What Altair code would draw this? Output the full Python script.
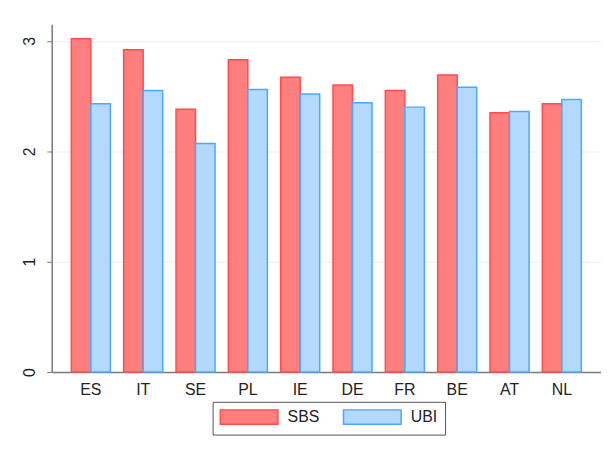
import altair as alt
import pandas as pd

countries = ["ES", "IT", "SE", "PL", "IE", "DE", "FR", "BE", "AT", "NL"]
sbs = [3.02, 2.92, 2.38, 2.83, 2.67, 2.60, 2.55, 2.69, 2.35, 2.43]
ubi = [2.43, 2.55, 2.07, 2.56, 2.52, 2.44, 2.40, 2.58, 2.36, 2.47]
series = ["SBS", "UBI"]
y_ticks = [0, 1, 2, 3]

rows = []
for c, a, b in zip(countries, sbs, ubi):
    rows.append({"country": c, "series": "SBS", "value": a})
    rows.append({"country": c, "series": "UBI", "value": b})
df = pd.DataFrame(rows)

bars = alt.Chart(df).mark_bar(strokeWidth=1.5).encode(
    x=alt.X("country:N", sort=countries, title=None,
            scale=alt.Scale(paddingInner=0.254, paddingOuter=0.375),
            axis=alt.Axis(labelAngle=0, ticks=False, tickSize=0, labelPadding=10,
                          labelFontSize=16, domainColor="#7a7a7a", domainWidth=1.5)),
    xOffset=alt.XOffset("series:N", sort=series, scale=alt.Scale(paddingInner=0, paddingOuter=0)),
    y=alt.Y("value:Q", title=None,
            scale=alt.Scale(domain=[0, 3.15], nice=False),
            axis=alt.Axis(values=y_ticks, format="d", labelAngle=270, tickSize=5,
                          labelPadding=9, labelFontSize=16, grid=True,
                          gridColor="#e9f0f1", gridWidth=1.2,
                          domainColor="#7a7a7a", domainWidth=1.5, tickColor="#7a7a7a")),
    color=alt.Color("series:N", sort=series, title=None,
                    scale=alt.Scale(domain=series, range=["#ff7f7f", "#b3d9ff"]),
                    legend=alt.Legend(orient="none", legendX=162, legendY=380,
                                      direction="horizontal",
                                      symbolType="M-1,-1H7V1H-1Z", symbolSize=210.25,
                                      symbolStrokeWidth=1.5,
                                      labelFontSize=16, labelOffset=52.5, columnPadding=20,
                                      padding=7, strokeColor="#555555",
                                      labelColor="#222222")),
    stroke=alt.Stroke("series:N", sort=series,
                      scale=alt.Scale(domain=series, range=["#ff4d4d", "#4da6ff"]),
                      legend=None),
)

frame = alt.Chart(pd.DataFrame({"k": [0]})).mark_rule(color="#e6eeee", strokeWidth=1.2).encode(
    x=alt.value(-45), x2=alt.value(-45), y=alt.value(-17), y2=alt.value(430)
)
frame_top = alt.Chart(pd.DataFrame({"k": [0]})).mark_rule(color="#e6eeee", strokeWidth=1.2).encode(
    x=alt.value(-45), x2=alt.value(600), y=alt.value(-17)
)

chart = alt.layer(frame, frame_top, bars).properties(
    width=553, height=350,
    autosize=alt.AutoSizeParams(type="none"),
    padding={"left": 44, "top": 15, "right": 0, "bottom": 68},
).configure_view(stroke=None).configure_axis(
    labelFont="Liberation Sans", labelColor="#222222"
).configure_legend(labelFont="Liberation Sans")

chart.save("out.html", embed_options={"renderer": "svg", "actions": False})
